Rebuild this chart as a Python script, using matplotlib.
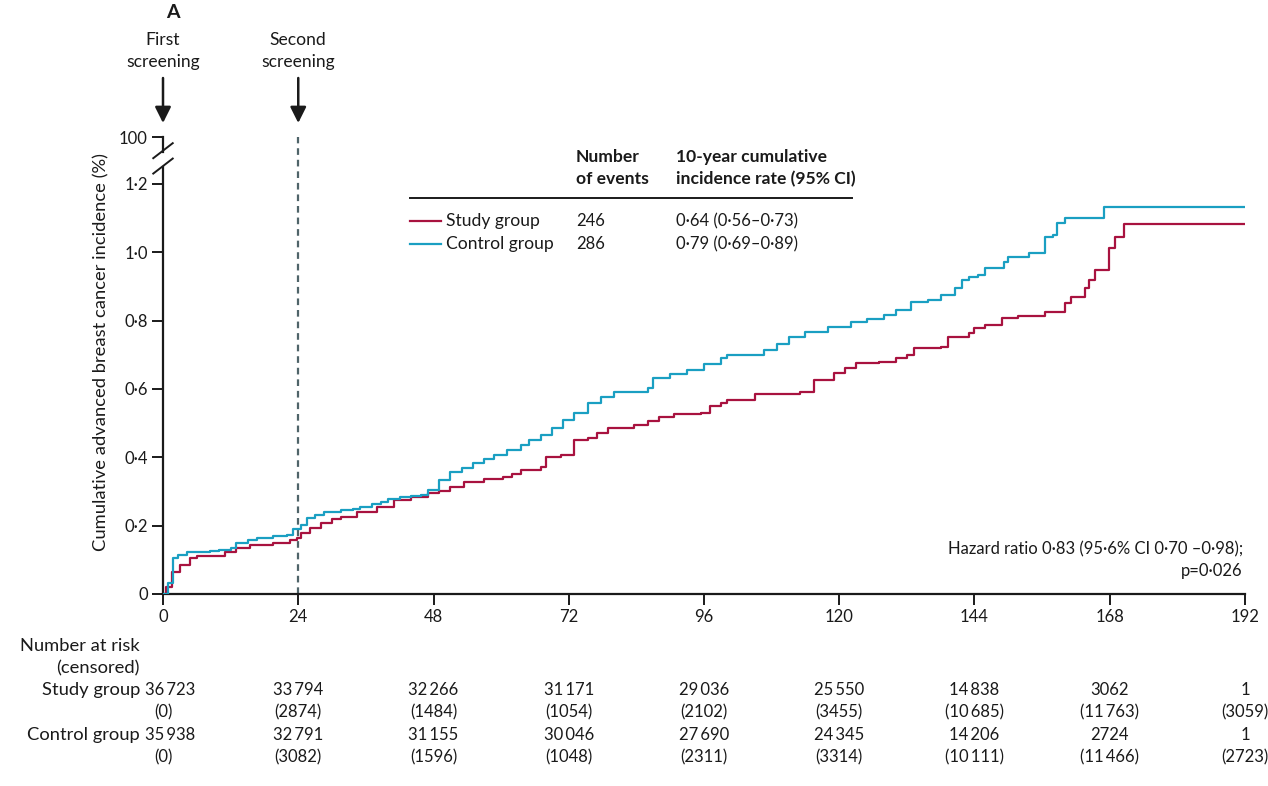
import matplotlib
matplotlib.use("Agg")
import matplotlib.pyplot as plt
import matplotlib.transforms as mtransforms

plt.rcParams['font.family'] = ['Lato', 'DejaVu Sans']

# Cumulative incidence (%), months since first screening
study_t = [0, 0.5, 1.6, 3, 4.8, 6, 11,
           13, 15.5, 19.6, 22.6, 23.8, 24.4, 26,
           28, 30, 31.5, 34.5, 38, 41, 44,
           47, 49, 51, 53.4, 57, 60.4, 62,
           63.5, 67, 68, 70.6, 73, 75.4, 77,
           79, 83.6, 86, 88, 90.7, 95.5, 97,
           99, 100, 105, 113, 115.6, 119, 121,
           123, 127, 130, 132, 133.3, 138, 139.3,
           143, 144, 145.8, 148.8, 151.7, 156.5, 160,
           161.2, 163.6, 164.3, 165.4, 167.8, 169, 170.5,
           192]
study_y = [0, 0.02, 0.064, 0.085, 0.105, 0.111, 0.123,
           0.134, 0.143, 0.150, 0.158, 0.164, 0.178, 0.192,
           0.208, 0.218, 0.226, 0.24, 0.255, 0.275, 0.285,
           0.295, 0.30, 0.312, 0.328, 0.335, 0.342, 0.352,
           0.363, 0.372, 0.40, 0.407, 0.45, 0.456, 0.47,
           0.486, 0.495, 0.505, 0.518, 0.527, 0.53, 0.55,
           0.559, 0.568, 0.585, 0.59, 0.626, 0.647, 0.66,
           0.676, 0.679, 0.69, 0.70, 0.72, 0.723, 0.752,
           0.764, 0.778, 0.787, 0.807, 0.813, 0.825, 0.852,
           0.869, 0.895, 0.919, 0.948, 1.013, 1.045, 1.083,
           1.083]

control_t = [0, 0.9, 1.8, 2.7, 4.2, 8.4, 10,
             12, 13, 15, 16.7, 19.6, 22, 23,
             24.4, 25.6, 27, 28.5, 31.5, 33.8, 35,
             37, 38.6, 40, 42, 44, 45.7, 47,
             49, 51, 53, 55, 57, 58.7, 61,
             63.5, 65, 67, 69, 71, 73, 75.4,
             77.7, 80, 86, 87, 90, 93, 96,
             99, 100, 106.7, 109, 111, 114, 118,
             122, 125, 128, 130, 132.8, 135.8, 138,
             140.5, 141.7, 143, 144.7, 145.8, 149.3, 150,
             153.6, 156.5, 158, 158.6, 160, 166.9, 192]
control_y = [0, 0.032, 0.105, 0.114, 0.123, 0.126, 0.128,
             0.134, 0.149, 0.157, 0.164, 0.17, 0.173, 0.19,
             0.202, 0.222, 0.232, 0.24, 0.246, 0.248, 0.255,
             0.262, 0.27, 0.277, 0.284, 0.287, 0.29, 0.305,
             0.334, 0.357, 0.37, 0.383, 0.395, 0.407, 0.42,
             0.436, 0.45, 0.465, 0.487, 0.509, 0.53, 0.559,
             0.577, 0.591, 0.603, 0.632, 0.645, 0.656, 0.672,
             0.69, 0.70, 0.714, 0.73, 0.752, 0.766, 0.78,
             0.796, 0.805, 0.816, 0.83, 0.855, 0.86, 0.875,
             0.895, 0.919, 0.928, 0.934, 0.954, 0.972, 0.986,
             0.998, 1.045, 1.05, 1.086, 1.10, 1.132, 1.132]

x_ticks = [0, 24, 48, 72, 96, 120, 144, 168, 192]
y_ticks = [0, 0.2, 0.4, 0.6, 0.8, 1.0, 1.2]
y_break_top = 1.337  # where the "100" tick sits above the axis break

study_risk = [36723, 33794, 32266, 31171, 29036, 25550, 14838, 3062, 1]
study_cens = [0, 2874, 1484, 1054, 2102, 3455, 10685, 11763, 3059]
control_risk = [35938, 32791, 31155, 30046, 27690, 24345, 14206, 2724, 1]
control_cens = [0, 3082, 1596, 1048, 2311, 3314, 10111, 11466, 2723]

groups = ['Study group', 'Control group']
n_events = [246, 286]
rates = ['0·64 (0·56–0·73)', '0·79 (0·69–0·89)']

red = '#a8123f'
blue = '#1a9fc2'
ink = '#1a1a1a'
fs = 12        # numbers
fl = 12.6      # words


def fmt(n):
    s = str(n)
    if n >= 10000:
        s = s[:-3] + '\u2009' + s[-3:]
    return s


def fx(px):
    return px / 1268


def fy(py):
    return 1 - py / 786


fig = plt.figure(figsize=(12.68, 7.86), dpi=100)
ax = fig.add_axes([fx(163), fy(594), fx(1245) - fx(163), fy(137) - fy(594)])

ax.plot(study_t, study_y, drawstyle='steps-post', color=red, lw=1.6, zorder=3)
ax.plot(control_t, control_y, drawstyle='steps-post', color=blue, lw=1.6, zorder=3)
ax.axvline(24, color='#4f6469', lw=1.6, ls=(0, (3, 2.2)), zorder=2)

ax.set_xlim(0, 192)
ax.set_ylim(0, y_break_top)
ax.set_xticks(x_ticks)
ax.set_xticklabels([str(v) for v in x_ticks], fontsize=fs, color=ink)
ax.set_yticks(y_ticks + [y_break_top])
ax.set_yticklabels([('%.1f' % v).replace('.', '·') if v else '0' for v in y_ticks] + ['100'],
                   fontsize=fs, color=ink)
ax.tick_params(direction='out', length=8, width=1.4, colors=ink, pad=3)

for s in ['top', 'right', 'left']:
    ax.spines[s].set_visible(False)
ax.spines['bottom'].set_linewidth(1.6)
ax.spines['bottom'].set_color(ink)

# broken y axis drawn by hand
tr = mtransforms.blended_transform_factory(ax.transAxes, ax.transData)
ax.plot([0, 0], [0, 1.248], transform=tr, color=ink, lw=1.6, clip_on=False)
ax.plot([0, 0], [1.292, y_break_top], transform=tr, color=ink, lw=1.6, clip_on=False)
for y0 in [1.23, 1.275]:
    ax.plot([-0.009, 0.009], [y0, y0 + 0.044], transform=tr, color=ink, lw=1.4, clip_on=False)

ax.set_ylabel('Cumulative advanced breast cancer incidence (%)', fontsize=fl + 0.6, color=ink)
ax.yaxis.set_label_coords(fx(100) - fx(163), (fy(352) - fy(594)) / (fy(137) - fy(594)))

fig.text(fx(166), fy(13), 'A', fontsize=14, fontweight='bold', color=ink, ha='left', va='center')

# screening arrows
for xv, label in [(0, 'First\nscreening'), (24, 'Second\nscreening')]:
    ax.annotate('', xy=(xv, fy(123)), xytext=(xv, fy(78)),
                xycoords=('data', 'figure fraction'), textcoords=('data', 'figure fraction'),
                arrowprops=dict(arrowstyle='-|>', mutation_scale=24, lw=1.8, color=ink,
                                shrinkA=0, shrinkB=0))
    ax.annotate(label, xy=(xv, fy(51)), xycoords=('data', 'figure fraction'),
                ha='center', va='center', fontsize=fl, color=ink, linespacing=1.4,
                annotation_clip=False)

# legend table
fig.text(fx(576), fy(168), 'Number\nof events', fontsize=fl, fontweight='bold', color=ink,
         ha='left', va='center', linespacing=1.45)
fig.text(fx(676), fy(168), '10-year cumulative\nincidence rate (95% CI)', fontsize=fl,
         fontweight='bold', color=ink, ha='left', va='center', linespacing=1.45)
fig.add_artist(plt.Line2D([fx(410), fx(852)], [fy(198), fy(198)], color=ink, lw=1.4))
for i, (g, col) in enumerate(zip(groups, [red, blue])):
    py = 221 + 23 * i
    fig.add_artist(plt.Line2D([fx(410), fx(441)], [fy(py), fy(py)], color=col, lw=1.6))
    fig.text(fx(446), fy(py), g, fontsize=fl, color=ink, ha='left', va='center')
    fig.text(fx(576), fy(py), str(n_events[i]), fontsize=fs, color=ink, ha='left', va='center')
    fig.text(fx(676), fy(py), rates[i], fontsize=fs, color=ink, ha='left', va='center')

fig.text(fx(1243), fy(549), 'Hazard ratio 0·83 (95·6% CI 0·70 –0·98);', fontsize=fs,
         color=ink, ha='right', va='center')
fig.text(fx(1243), fy(571), 'p=0·026', fontsize=fs, color=ink, ha='right', va='center')

# number at risk table
fig.text(fx(140), fy(646), 'Number at risk', fontsize=fl + 0.6, color=ink, ha='right', va='center')
fig.text(fx(140), fy(668), '(censored)', fontsize=fl + 0.6, color=ink, ha='right', va='center')
rows = [(690, 'Study group', study_risk, False), (712, None, study_cens, True),
        (735, 'Control group', control_risk, False), (757, None, control_cens, True)]
trr = mtransforms.blended_transform_factory(ax.transData, fig.transFigure)
for py, lab, vals, paren in rows:
    if lab:
        fig.text(fx(140), fy(py), lab, fontsize=fl + 0.6, color=ink, ha='right', va='center')
    for xv, v in zip(x_ticks, vals):
        txt = '(' + fmt(v) + ')' if paren else fmt(v)
        xx = xv + 1.2 if (xv == 0 and not paren) else xv
        ax.text(xx, fy(py), txt, transform=trr, fontsize=fs, color=ink,
                ha='center', va='center', clip_on=False)

fig.savefig('out.png', dpi=100)
